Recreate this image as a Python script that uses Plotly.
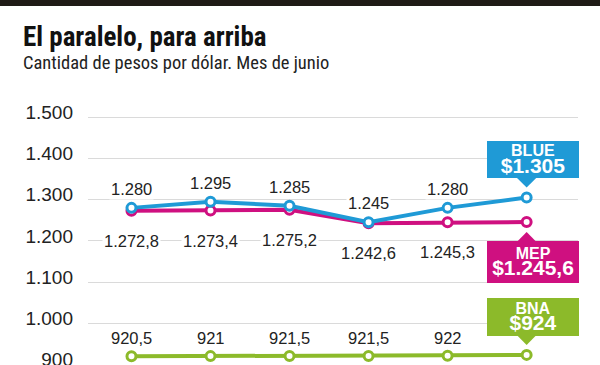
import plotly.graph_objects as go

# ---- data ----
periodo = [1, 2, 3, 4, 5, 6]
blue = [1280, 1295, 1285, 1245, 1280, 1305]
mep = [1272.8, 1273.4, 1275.2, 1242.6, 1245.3, 1245.6]
bna = [920.5, 921, 921.5, 921.5, 922, 924]
y_ticks = [900, 1000, 1100, 1200, 1300, 1400, 1500]
series_names = ["BLUE", "MEP", "BNA"]

C_BLUE = "#1f9ad6"
C_MEP = "#cf1080"
C_BNA = "#8cba2a"
TXT = "#222222"
NUM_FONT = "Liberation Sans, Arial, sans-serif"
NARROW = "Liberation Sans Narrow, Arial Narrow, Roboto Condensed, DejaVu Sans Condensed, Liberation Sans, sans-serif"


def fmt(v):
    if float(v).is_integer():
        s = f"{int(v):,}"
    else:
        s = f"{v:,.1f}"
    return s.replace(",", "X").replace(".", ",").replace("X", ".")


fig = go.Figure()

# draw order: BNA, MEP, BLUE (blue on top)
for vals, col in [(bna, C_BNA), (mep, C_MEP), (blue, C_BLUE)]:
    fig.add_trace(go.Scatter(
        x=periodo, y=vals, mode="lines+markers",
        line=dict(color=col, width=4),
        marker=dict(size=9, color="white", line=dict(color=col, width=3)),
        hoverinfo="skip", showlegend=False, cliponaxis=False,
    ))

ann = []
# value labels (all points except the last one, which is in a box)
for vals, shift in [(blue, 19), (mep, -30), (bna, 18)]:
    for xv, yv in zip(periodo[:-1], vals[:-1]):
        ann.append(dict(x=xv, y=yv, xref="x", yref="y", text=fmt(yv), showarrow=False,
                        yshift=shift, font=dict(family=NUM_FONT, size=16.5, color=TXT),
                        bgcolor="white", borderpad=1))

# callout boxes for last values (pointer drawn as an arrow head, box on top)
for name, vals, col, bshift, h, ay in [
    ("BLUE", blue, C_BLUE, 38, 37, -22),
    ("MEP", mep, C_MEP, -40, 42, 22),
    ("BNA", bna, C_BNA, 38, 38, -22),
]:
    xv, yv = periodo[-1], vals[-1]
    ann.append(dict(x=xv, y=yv, xref="x", yref="y", text="", showarrow=True,
                    ax=0, ay=ay, arrowhead=1, arrowwidth=2, arrowsize=1.6,
                    arrowcolor=col, standoff=10))
    txt = (f"<span style='font-size:16px'><b>{name}</b></span><br>"
           f"<span style='font-size:21px'><b>${fmt(yv)}</b></span>")
    ann.append(dict(x=xv, y=yv, xref="x", yref="y", text=txt, showarrow=False,
                    xshift=6, yshift=bshift, width=92, height=h,
                    bgcolor=col, borderpad=0, borderwidth=0,
                    font=dict(family=NUM_FONT, size=13, color="white")))

# title & subtitle
ann.append(dict(xref="paper", yref="paper", x=(21 - 88) / 490, y=(365 - 37) / 265,
                xanchor="left", yanchor="middle", showarrow=False,
                text="<b>El paralelo, para arriba</b>",
                font=dict(family=NARROW, size=27, color="#111111")))
ann.append(dict(xref="paper", yref="paper", x=(21 - 88) / 490, y=(365 - 63) / 265,
                xanchor="left", yanchor="middle", showarrow=False,
                text="Cantidad de pesos por dólar. Mes de junio",
                font=dict(family=NARROW, size=18.5, color="#222222")))

fig.update_layout(
    width=600, height=365,
    margin=dict(l=88, r=22, t=100, b=0, pad=0, autoexpand=False),
    paper_bgcolor="white", plot_bgcolor="white",
    separators=",.",
    annotations=ann,
    shapes=[dict(type="rect", xref="paper", yref="paper",
                 x0=-88 / 490, x1=(600 - 88) / 490,
                 y0=(365 - 6) / 265, y1=365 / 265,
                 fillcolor="#1f1b16", line=dict(width=0), layer="above")],
    xaxis=dict(range=[periodo[0] - 0.55, periodo[0] + 5.65], showgrid=False, zeroline=False,
               showticklabels=False, showline=False, ticks="", fixedrange=True,
               automargin=False),
    yaxis=dict(range=[899.5, 1541.2], tickvals=y_ticks, tickformat=",d",
               showgrid=True, gridcolor="#dadada", gridwidth=1, zeroline=False,
               showline=False, ticks="", ticklabelshift=-5, ticklabelstandoff=14,
               ticklabeloverflow="allow",
               tickfont=dict(family=NUM_FONT, size=19, color=TXT), fixedrange=True,
               automargin=False),
)

fig.write_html("out.html", config={"displayModeBar": False},
               post_script="document.body.style.margin='0';document.body.style.overflow='hidden';")
